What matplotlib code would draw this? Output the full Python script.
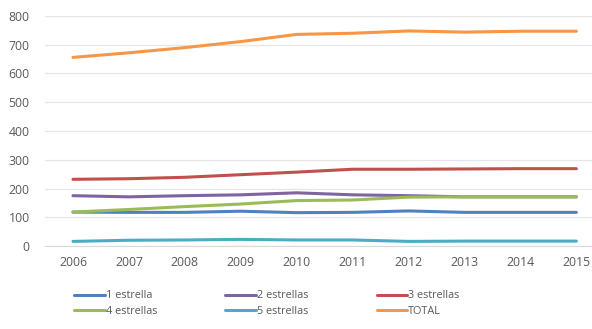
import matplotlib.pyplot as plt

years = ["2006", "2007", "2008", "2009", "2010", "2011", "2012", "2013", "2014", "2015"]

una = [118, 117, 117, 121, 116, 117, 122, 117, 117, 117]
dos = [175, 171, 175, 178, 185, 178, 175, 171, 171, 171]
tres = [232, 234, 239, 248, 257, 267, 267, 268, 269, 269]
cuatro = [118, 127, 137, 146, 158, 160, 170, 171, 171, 171]
cinco = [16, 20, 21, 23, 21, 21, 16, 17, 17, 17]
total = [656, 672, 690, 711, 736, 740, 748, 744, 747, 747]

series = [
    ("1 estrella", una, "#4F81BD"),
    ("2 estrellas", dos, "#8064A2"),
    ("3 estrellas", tres, "#C0504D"),
    ("4 estrellas", cuatro, "#9BBB59"),
    ("5 estrellas", cinco, "#4BACC6"),
    ("TOTAL", total, "#F79646"),
]

plt.rcParams['font.family'] = ['Open Sans', 'DejaVu Sans']
grey = "#595959"

fig = plt.figure(figsize=(5.92, 3.29), dpi=100)
ax = fig.add_axes([45 / 592, 83 / 329, 547 / 592, 230 / 329])

x = list(range(len(years)))
for name, vals, col in series:
    ax.plot(x, vals, color=col, lw=2.2, label=name, solid_capstyle="round")

ax.set_ylim(0, 800)
ax.set_yticks(range(0, 801, 100))
ax.set_xlim(-0.5, 9.28)
ax.set_xticks(x)
ax.set_xticklabels(years)
ax.grid(axis="y", color="#E6E6E6", lw=0.9)
ax.set_axisbelow(True)
for s in ["top", "right", "left"]:
    ax.spines[s].set_visible(False)
ax.spines["bottom"].set_color("#D9D9D9")
ax.tick_params(axis="both", length=0, colors=grey, labelsize=8.8)
ax.tick_params(axis="y", pad=11)
ax.tick_params(axis="x", pad=7)

# legend in two rows, three columns, order as in Excel
h, l = ax.get_legend_handles_labels()
order = [0, 3, 1, 4, 2, 5]
leg = fig.legend([h[i] for i in order], [l[i] for i in order], ncol=3,
                 loc="upper left", bbox_to_anchor=(69 / 592, 1 - 285 / 329),
                 frameon=False, fontsize=7.8, handlelength=2.8, handletextpad=0.1,
                 columnspacing=6.3, labelspacing=0.4, labelcolor=grey,
                 borderpad=0)

fig.savefig("out.png", dpi=100)
